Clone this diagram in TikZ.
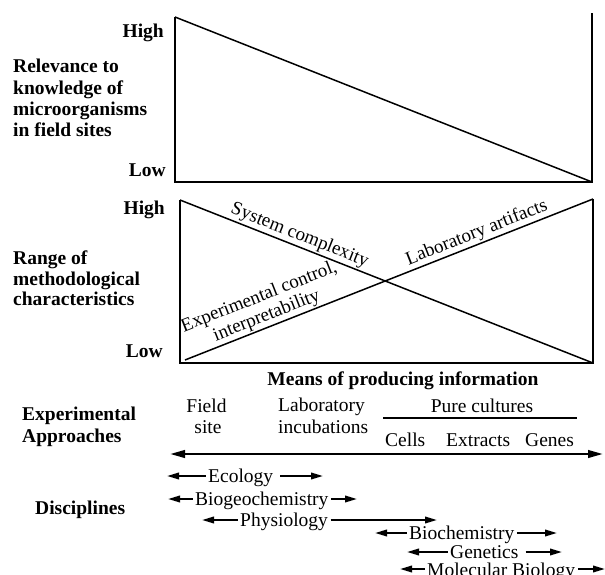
\documentclass[tikz,border=0pt]{standalone}
\usepackage{fontspec}
\setmainfont{Liberation Serif}
\usetikzlibrary{arrows.meta}
\begin{document}
\begin{tikzpicture}[x=1pt,y=-1pt,
  frame/.style={line width=2.2pt},
  diag/.style={line width=1.5pt},
  lbl/.style={font=\fontsize{19.5}{21.5}\selectfont\bfseries, inner sep=0pt},
  txt/.style={font=\fontsize{19.5}{21.5}\selectfont, inner sep=0pt},
  dtxt/.style={font=\fontsize{19.5}{21.5}\selectfont, inner xsep=2.5pt, inner ysep=0pt},
  rtxt/.style={font=\fontsize{19}{20}\selectfont, inner sep=2pt},
  dar/.style={line width=2pt, -{Triangle[length=12pt,width=6.5pt]}},
  bigar/.style={line width=2.5pt, {Triangle[length=15pt,width=7.5pt]}-{Triangle[length=15pt,width=7.5pt]}},
  ]
\useasboundingbox (0,0) rectangle (605,575);

% ---- top panel
\coordinate (aTL) at (175,17);
\coordinate (aBL) at (175,182);
\coordinate (aBR) at (592,182);
\coordinate (aTR) at (592,13);
\draw[frame] (aTL) -- (aBL) -- (aBR) -- (aTR);
\draw[diag] (aTL) -- (aBR);

\node[lbl, anchor=base east] (hi1) at (164,38) {High};
\node[lbl, anchor=base east] (lo1) at (166,176) {Low};
\node[lbl, anchor=base west] (r1) at (13,73) {Relevance to};
\node[lbl, anchor=base west] (r2) at (13,94.5) {knowledge of};
\node[lbl, anchor=base west] (r3) at (13,116) {microorganisms};
\node[lbl, anchor=base west] (r4) at (13,137) {in field sites};

% ---- middle panel
\coordinate (bTL) at (180,200);
\coordinate (bBL) at (180,363);
\coordinate (bBR) at (593,363);
\coordinate (bTR) at (593,199);
\coordinate (bLL) at (185,360);
\draw[frame] (bTL) -- (bBL) -- (bBR) -- (bTR);
\draw[diag] (bTL) -- (bBR);
\draw[diag] (bLL) -- (bTR);

\node[lbl, anchor=base east] (hi2) at (165,214) {High};
\node[lbl, anchor=base east] (lo2) at (163,357) {Low};
\node[lbl, anchor=base west] (m1) at (13,264) {Range of};
\node[lbl, anchor=base west] (m2) at (13,285) {methodological};
\node[lbl, anchor=base west] (m3) at (13,305) {characteristics};

\path (bTL) -- node[rtxt, sloped, above, pos=0.28] (sc) {System complexity} (bBR);
\path (bLL) -- node[rtxt, sloped, above, pos=0.21, align=center] (ec) {Experimental control,\\interpretability} (bTR);
\path (bLL) -- node[rtxt, sloped, above, pos=0.725] (la) {Laboratory artifacts} (bTR);

% ---- means of producing information
\node[lbl, anchor=base] (means) at (403,385) {Means of producing information};
\node[lbl, anchor=base west] (ex1) at (22,420) {Experimental};
\node[lbl, anchor=base west] (ex2) at (22,442) {Approaches};

\node[txt, anchor=base] (field) at (206.5,412) {Field};
\node[txt, anchor=base] (site) at (208,433) {site};
\node[txt, anchor=base west] (lab) at (278,411) {Laboratory};
\node[txt, anchor=base west] (inc) at (278,433) {incubations};
\node[txt, anchor=base] (pure) at (482,412) {Pure cultures};
\coordinate (pcL) at (383,418);
\coordinate (pcR) at (577,418);
\draw[line width=2pt] (pcL) -- (pcR);
\node[txt, anchor=base west] (cells) at (385,446) {Cells};
\node[txt, anchor=base west] (extr) at (446,446) {Extracts};
\node[txt, anchor=base west] (genes) at (525,446) {Genes};

\coordinate (axL) at (170,454);
\coordinate (axR) at (603,454);
\draw[bigar] (axL) -- (axR);

% ---- disciplines
\node[lbl, anchor=base west] (disc) at (35,514) {Disciplines};

\node[dtxt, anchor=base west] (eco) at (205.5,482) {Ecology};
\coordinate (ecoL) at (167,476);
\coordinate (ecoR) at (323,476);
\draw[dar] (eco.west |- ecoL) -- (ecoL);
\draw[dar, shorten <=4.5pt] (eco.east |- ecoR) -- (ecoR);

\node[dtxt, anchor=base west] (bg) at (192.5,505) {Biogeochemistry};
\coordinate (bgL) at (168,499);
\coordinate (bgR) at (357,499);
\draw[dar] (bg.west |- bgL) -- (bgL);
\draw[dar] (bg.east |- bgR) -- (bgR);

\node[dtxt, anchor=base west] (ph) at (237.5,526) {Physiology};
\coordinate (phL) at (202,520);
\coordinate (phR) at (437,520);
\draw[dar] (ph.west |- phL) -- (phL);
\draw[dar] (ph.east |- phR) -- (phR);

\node[dtxt, anchor=base west] (bc) at (406.5,539) {Biochemistry};
\coordinate (bcL) at (375,533);
\coordinate (bcR) at (557,533);
\draw[dar] (bc.west |- bcL) -- (bcL);
\draw[dar] (bc.east |- bcR) -- (bcR);

\node[dtxt, anchor=base west] (gn) at (447.5,558) {Genetics};
\coordinate (gnL) at (407,552);
\coordinate (gnR) at (562,552);
\draw[dar] (gn.west |- gnL) -- (gnL);
\draw[dar, shorten <=4.5pt] (gn.east |- gnR) -- (gnR);

\node[dtxt, anchor=base west] (mb) at (424.5,576) {Molecular Biology};
\coordinate (mbL) at (400,569);
\coordinate (mbR) at (605,569);
\draw[dar] (mb.west |- mbL) -- (mbL);
\draw[dar] (mb.east |- mbR) -- (mbR);
\end{tikzpicture}
\end{document}
